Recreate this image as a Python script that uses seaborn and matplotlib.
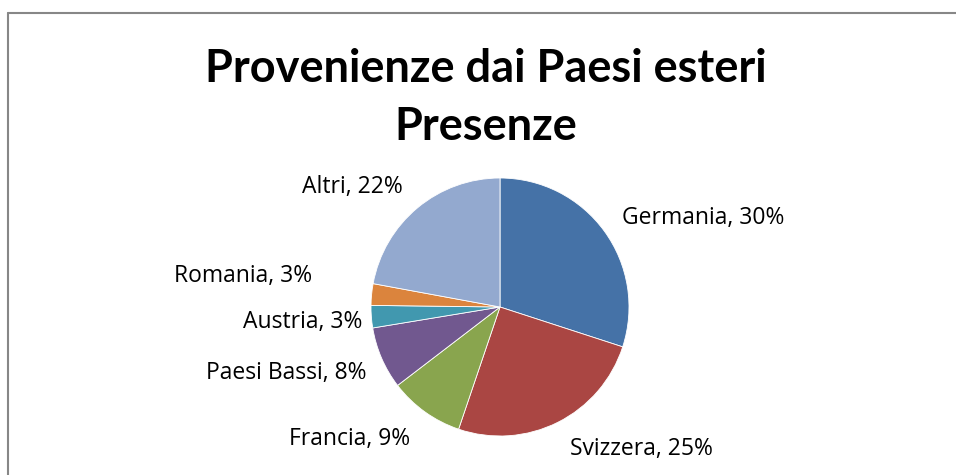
import matplotlib
matplotlib.use("Agg")
import numpy as np
import matplotlib.pyplot as plt
import seaborn as sns
from matplotlib.lines import Line2D

# Provenienze dai Paesi esteri - quota delle presenze (%)
paesi = ["Germania", "Svizzera", "Francia", "Paesi Bassi", "Austria", "Romania", "Altri"]
quote = [30.0, 25.2, 9.4, 7.8, 2.8, 2.7, 22.1]
colori = ["#4572A7", "#AA4643", "#89A54E", "#71588F", "#4198AF", "#DB843D", "#93A9CF"]

# label placement (distance from centre in radii, vertical nudge in radii)
dist_etichette = [1.17, 1.21, 1.19, 1.13, 1.07, 1.46, 1.18]
spost_y = [0.0, -0.02, -0.055, -0.06, -0.035, 0.10, 0.025]

sns.set_theme(style="white")
plt.rcParams["font.family"] = ["Open Sans", "DejaVu Sans"]

W, H = 956, 475
fig = plt.figure(figsize=(W / 100, H / 100), dpi=100)

# pie: centre (500, 307) px, radius 129 px
cx, cy, r = 500, 307, 129
ax = fig.add_axes([(cx - r) / W, (H - cy - r) / H, 2 * r / W, 2 * r / H])

etichette = [f"{p}, {round(q)}%" for p, q in zip(paesi, quote)]
wedges, texts = ax.pie(quote, labels=etichette, colors=sns.color_palette(colori),
                       startangle=90, counterclock=False,
                       wedgeprops=dict(edgecolor="white", linewidth=0.6),
                       textprops=dict(fontsize=16.5, color="black"))
for w, t, d, dy in zip(wedges, texts, dist_etichette, spost_y):
    ang = np.deg2rad((w.theta1 + w.theta2) / 2)
    t.set_position((d * np.cos(ang), d * np.sin(ang) + dy))
ax.set_xlim(-1, 1)
ax.set_ylim(-1, 1)
ax.set_aspect("equal")

fig.text(486 / W, 1 - 98 / H, "Provenienze dai Paesi esteri\nPresenze",
         ha="center", va="center", fontsize=32.5, fontweight="bold", color="black",
         linespacing=1.5, family=["Lato", "DejaVu Sans"])

# chart frame (only top and left edges visible)
fig.add_artist(Line2D([7.5 / W, 7.5 / W], [0, 1 - 13 / H], transform=fig.transFigure,
                      color="#878787", linewidth=1.5))
fig.add_artist(Line2D([7.5 / W, 1], [1 - 13 / H, 1 - 13 / H], transform=fig.transFigure,
                      color="#878787", linewidth=1.5))

fig.savefig("out.png", dpi=100, facecolor="white")
